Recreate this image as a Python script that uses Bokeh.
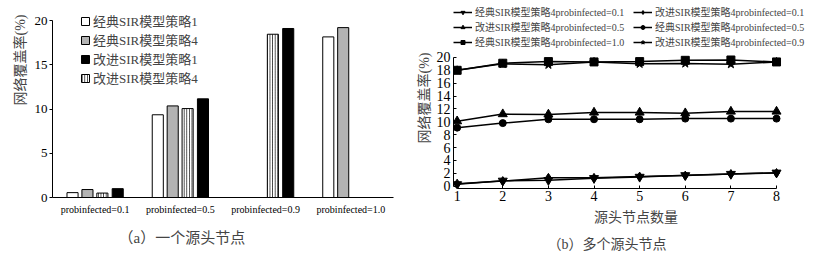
from bokeh.plotting import figure
from bokeh.layouts import row, column
from bokeh.models import (ColumnDataSource, FactorRange, Range1d, Legend, LegendItem,
                          Title, FixedTicker)
from bokeh.transform import dodge
from bokeh.embed import file_html
from bokeh.resources import INLINE

# ---------------- data ----------------
groups = ["probinfected=0.1", "probinfected=0.5", "probinfected=0.9", "probinfected=1.0"]
classic_s1 = [0.55, 9.35, 0.0, 18.15]
classic_s4 = [0.9, 10.35, 0.0, 19.2]
improved_s1 = [1.0, 11.15, 19.1, 0.0]
improved_s4 = [0.5, 10.05, 18.45, 0.0]
bar_names = ["经典SIR模型策略1", "经典SIR模型策略4", "改进SIR模型策略1", "改进SIR模型策略4"]

sources = [1, 2, 3, 4, 5, 6, 7, 8]
c4_p01 = [0.3, 0.85, 0.95, 1.25, 1.45, 1.7, 1.9, 2.1]
i4_p01 = [0.4, 0.8, 1.3, 1.3, 1.5, 1.65, 1.9, 2.05]
i4_p05 = [10.1, 11.2, 11.15, 11.45, 11.45, 11.35, 11.6, 11.6]
c4_p05 = [9.1, 9.8, 10.4, 10.4, 10.4, 10.5, 10.5, 10.5]
c4_p10 = [18.0, 19.1, 19.35, 19.3, 19.35, 19.55, 19.6, 19.3]
i4_p09 = [18.0, 19.0, 18.85, 19.3, 19.0, 19.05, 18.95, 19.3]
line_names = ["经典SIR模型策略4probinfected=0.1", "改进SIR模型策略4probinfected=0.1",
              "改进SIR模型策略4probinfected=0.5", "经典SIR模型策略4probinfected=0.5",
              "经典SIR模型策略4probinfected=1.0", "改进SIR模型策略4probinfected=0.9"]

SERIF = "Liberation Serif, Noto Sans CJK SC"

# ---------------- left chart ----------------
src = ColumnDataSource(dict(cat=groups, a=classic_s1, b=classic_s4, c=improved_s1, d=improved_s4))
p1 = figure(x_range=FactorRange(*groups), y_range=Range1d(0, 21.36), width=410, height=260,
            output_backend="svg", toolbar_location=None,
            min_border_left=52, min_border_right=17, min_border_top=8, min_border_bottom=63)
p1.outline_line_color = None
p1.grid.grid_line_color = None
w = 0.13
r_a = p1.vbar(x=dodge("cat", -0.265, range=p1.x_range), top="a", width=w, source=src,
              fill_color="white", line_color="black")
r_b = p1.vbar(x=dodge("cat", -0.09, range=p1.x_range), top="b", width=w, source=src,
              fill_color="#b3b3b3", line_color="black")
r_d = p1.vbar(x=dodge("cat", 0.085, range=p1.x_range), top="d", width=w, source=src,
              fill_color="white", line_color="black", hatch_pattern="vertical_line",
              hatch_color="black", hatch_scale=2.6, hatch_weight=0.8)
r_c = p1.vbar(x=dodge("cat", 0.265, range=p1.x_range), top="c", width=w, source=src,
              fill_color="black", line_color="black")
p1.yaxis.ticker = FixedTicker(ticks=[0, 5, 10, 15, 20])
p1.yaxis.bounds = (0, 20)
for ax in (p1.xaxis[0], p1.yaxis[0]):
    ax.axis_line_color = "black"
    ax.major_label_text_font = SERIF
    ax.major_label_text_color = "black"
    ax.minor_tick_line_color = None
p1.yaxis.major_label_text_font_size = "13px"
p1.yaxis.major_tick_in = 0
p1.yaxis.major_tick_out = 3
p1.yaxis.major_label_standoff = 2
p1.xaxis.major_tick_line_color = None
p1.xaxis.major_tick_in = 0
p1.xaxis.major_tick_out = 0
p1.xaxis.major_label_text_font_size = "10px"
p1.xaxis.major_label_standoff = 6

leg1 = Legend(items=[LegendItem(label=bar_names[0], renderers=[r_a]),
                     LegendItem(label=bar_names[1], renderers=[r_b]),
                     LegendItem(label=bar_names[2], renderers=[r_c]),
                     LegendItem(label=bar_names[3], renderers=[r_d])],
              location=(28, 110), padding=0, margin=0, spacing=0,
              glyph_width=10, glyph_height=10, label_height=13, label_standoff=3,
              label_text_font=SERIF, label_text_font_size="13px",
              border_line_color=None, background_fill_alpha=0)
p1.add_layout(leg1)
p1.add_layout(Title(text="网络覆盖率(%)", align="right", standoff=8, offset=6,
                    text_font=SERIF, text_font_size="14px", text_font_style="normal"), "left")
p1.add_layout(Title(text="（a）一个源头节点", align="left", offset=66, standoff=24,
                    vertical_align="top",
                    text_font=SERIF, text_font_size="15px", text_font_style="normal"), "below")

# ---------------- right chart ----------------
p2 = figure(x_range=Range1d(0.92, 8.92), y_range=Range1d(-0.35, 27.75), width=411, height=260,
            output_backend="svg", toolbar_location=None,
            min_border_left=43, min_border_right=3, min_border_top=7, min_border_bottom=72)
p2.outline_line_color = None
p2.grid.grid_line_color = None
markers = ["inverted_triangle", "diamond", "triangle", "circle", "square", "star"]
msizes = [9, 9, 9, 7, 8, 9]
series = [c4_p01, i4_p01, i4_p05, c4_p05, c4_p10, i4_p09]
items = []
for name, ys, mk, ms in zip(line_names, series, markers, msizes):
    s = ColumnDataSource(dict(x=sources, y=ys))
    rl = p2.line("x", "y", source=s, line_color="black", line_width=1.5)
    rm = p2.scatter("x", "y", source=s, marker=mk, size=ms, fill_color="black", line_color="black")
    items.append(LegendItem(label=name, renderers=[rl, rm]))
p2.xaxis.ticker = FixedTicker(ticks=sources)
p2.xaxis.bounds = (1, 8)
p2.yaxis.ticker = FixedTicker(ticks=list(range(0, 21, 2)))
p2.yaxis.bounds = (0, 20)
for ax in (p2.xaxis[0], p2.yaxis[0]):
    ax.axis_line_color = "black"
    ax.major_label_text_font = SERIF
    ax.major_label_text_color = "black"
    ax.minor_tick_line_color = None
    ax.major_tick_in = 3
    ax.major_tick_out = 0
    ax.axis_label_text_font = SERIF
    ax.axis_label_text_font_size = "14px"
    ax.axis_label_text_font_style = "normal"
p2.yaxis.major_label_text_font_size = "14px"
p2.yaxis.major_label_standoff = 3
p2.xaxis.major_label_text_font_size = "14px"
p2.xaxis.major_label_standoff = 2
p2.xaxis.axis_label = "源头节点数量"
p2.xaxis.axis_label_standoff = 6

order = [0, 2, 4, 1, 3, 5]
leg2 = Legend(items=[items[i] for i in order], location=(0, 139), orientation="vertical", nrows=3,
              padding=0, margin=0, spacing=0, label_width=158,
              glyph_width=19, glyph_height=10, label_height=10, label_standoff=3,
              label_text_font=SERIF, label_text_font_size="10px", label_text_line_height=0.9,
              border_line_color=None, background_fill_alpha=0)
p2.add_layout(leg2)
p2.add_layout(Title(text="网络覆盖率(%)", align="center", standoff=4,
                    text_font=SERIF, text_font_size="14px", text_font_style="normal"), "left")
p2.add_layout(Title(text="（b）多个源头节点", align="left", offset=94, standoff=14,
                    text_font=SERIF, text_font_size="14px", text_font_style="normal"), "below")

layout = row(column(p1), column(p2))
open("out.html", "w").write(file_html(layout, INLINE))
